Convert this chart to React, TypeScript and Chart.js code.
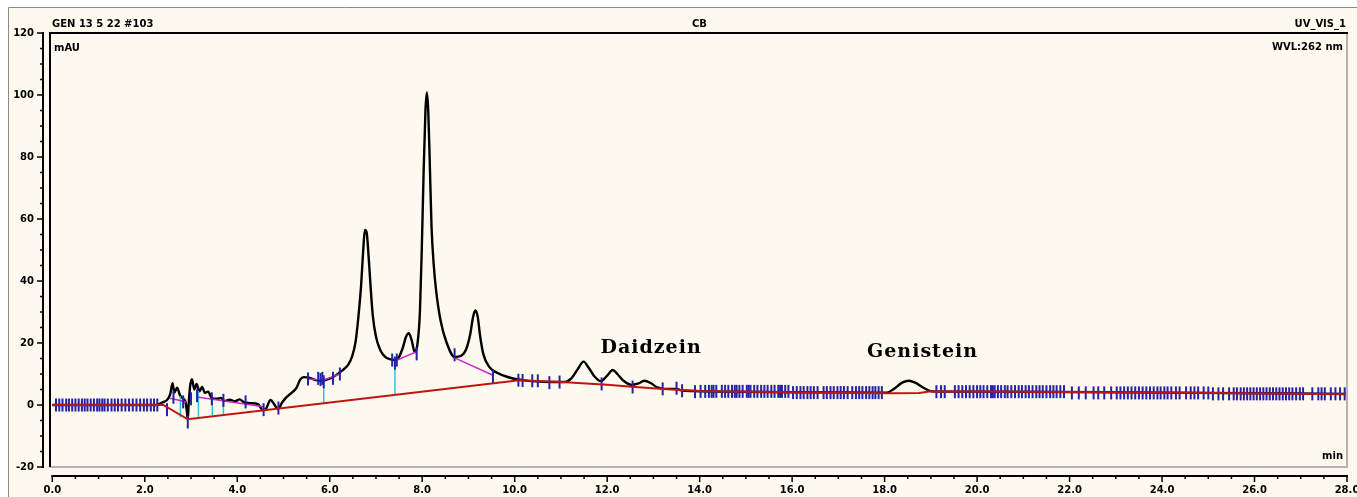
import React, { useEffect, useRef } from "react";
import { Chart, registerables } from "chart.js";
Chart.register(...registerables);

// ---------- data (time in min, signal in mAU) ----------
const xTickLabels = ["0.0","2.0","4.0","6.0","8.0","10.0","12.0","14.0","16.0","18.0","20.0","22.0","24.0","26.0","28.0"];
const yTickLabels = ["-20","0","20","40","60","80","100","120"];

const trace: [number, number][] = [
  [0,0],[2.25,0],[2.38,0.8],[2.48,1.6],[2.55,3.5],[2.6,7.0],[2.64,4.0],[2.7,5.6],[2.76,3.2],[2.82,2.2],
  [2.88,1.0],[2.91,-2.0],[2.93,-4.5],[2.95,0.5],[2.98,6.0],[3.02,8.3],[3.07,5.0],[3.12,6.8],[3.18,4.4],
  [3.24,5.8],[3.3,3.9],[3.37,4.3],[3.45,2.2],[3.56,2.0],[3.65,2.3],[3.72,1.3],[3.84,1.7],[3.95,1.2],
  [4.05,1.8],[4.15,0.8],[4.3,0.6],[4.45,0.3],[4.55,-1.6],[4.62,-1.2],[4.72,1.6],[4.8,0.2],[4.88,-1.3],
  [4.97,0.8],[5.07,2.6],[5.18,4.0],[5.28,5.5],[5.36,8.2],[5.44,9.0],[5.55,8.8],[5.7,8.0],[5.85,7.8],
  [5.95,8.3],[6.05,8.8],[6.2,10.3],[6.3,11.5],[6.4,13.0],[6.48,15.5],[6.56,20.5],[6.62,28.5],[6.68,39.0],
  [6.72,49.0],[6.76,56.5],[6.8,55.5],[6.84,48.0],[6.88,39.0],[6.93,29.0],[7.0,22.0],[7.1,17.5],[7.2,15.5],
  [7.3,14.8],[7.41,14.5],[7.5,15.5],[7.58,18.5],[7.65,22.0],[7.71,23.2],[7.77,21.0],[7.84,17.0],[7.9,20.0],
  [7.95,30.0],[7.99,50.0],[8.03,75.0],[8.07,95.0],[8.1,100.8],[8.13,95.0],[8.16,80.0],[8.2,58.0],[8.25,45.0],
  [8.3,37.0],[8.4,27.0],[8.53,20.0],[8.7,15.5],[8.83,15.8],[8.95,18.0],[9.04,23.0],[9.1,28.5],[9.15,30.5],
  [9.2,28.5],[9.25,22.5],[9.32,16.5],[9.45,12.3],[9.63,10.3],[9.9,8.8],[10.3,7.8],[11.06,7.4],[11.23,8.7],
  [11.36,11.5],[11.49,14.0],[11.6,12.0],[11.72,9.3],[11.86,7.7],[12.0,9.5],[12.12,11.3],[12.22,10.0],
  [12.34,8.0],[12.53,6.5],[12.68,7.0],[12.8,7.8],[12.95,7.0],[13.07,5.8],[13.24,5.2],[13.5,5.2],[13.6,4.7],
  [13.85,4.5],[14.5,4.3],[16.0,4.1],[18.05,4.0],[18.2,5.2],[18.38,7.2],[18.52,7.8],[18.66,7.2],[18.85,5.5],
  [19.03,4.4],[20.0,4.3],[24.0,4.0],[28.0,3.6],
];

const baseline: [number, number][] = [
  [0,0],[2.4,0],[2.93,-4.6],[10.1,8.0],[11.0,7.4],[12.0,6.5],[12.6,5.8],[13.3,5.1],[14.0,4.5],
  [16.0,4.1],[18.1,3.8],[18.75,3.9],[19.0,4.4],[24.0,4.0],[28.0,3.5],
];

const skimLines: [number, number][][] = [
  [[2.55,2.2],[2.9,1.0]],
  [[3.13,2.6],[4.57,-0.6]],
  [[5.51,8.4],[5.87,8.1],[6.22,10.0]],
  [[7.41,14.2],[7.88,17.2]],
  [[8.7,15.2],[9.53,9.6]],
];

const dropLines: [number, number, number][] = [
  [2.77, 2.8, -4.0],
  [3.16, 4.5, -3.8],
  [3.46, 2.2, -3.3],
  [3.7, 1.3, -2.9],
  [5.87, 8.1, 0.6],
  [7.41, 14.3, 3.5],
];

const markersAtZero = [0.08,0.15,0.22,0.3,0.36,0.43,0.5,0.57,0.64,0.7,0.76,0.83,0.9,0.97,1.02,1.08,1.13,1.2,1.28,1.35,1.42,1.5,1.58,1.66,1.74,1.82,1.9,1.98,2.05,2.13,2.2,2.27];
const markersMidA = [14.02,14.12,14.2,14.26,14.3,14.36,14.48,14.55,14.62,14.7,14.76,14.8,14.86,14.93,15.02,15.06,15.1,15.18,15.25,15.33,15.4,15.47,15.55,15.62,15.7,15.74,15.78,15.85,15.92];
const markersMidB = [16.02,16.1,16.18,16.25,16.33,16.4,16.47,16.55,16.68,16.75,16.83,16.9,16.98,17.05,17.12,17.2,17.3,17.38,17.45,17.52,17.6,17.67,17.74,17.8,17.87,17.94];
const markersLateA = [19.12,19.22,19.3,19.52,19.6,19.68,19.76,19.84,19.92,20.0,20.07,20.14,20.22,20.3,20.34,20.38,20.45,20.52,20.6,20.66,20.74,20.82,20.9,20.97,21.05,21.12,21.2,21.28,21.35,21.42,21.5,21.58,21.65,21.72,21.8,21.88];
const markersLateB = [22.05,22.2,22.35,22.52,22.62,22.75,22.9,23.02,23.1,23.18,23.26,23.34,23.42,23.5,23.58,23.66,23.74,23.82,23.9,23.97,24.05,24.12,24.2,24.3,24.38,24.52,24.62,24.7,24.78,24.9,25.0];
const markersLateC = [25.1,25.22,25.32,25.45,25.55,25.62,25.7,25.77,25.84,25.91,25.98,26.05,26.12,26.19,26.26,26.33,26.4,26.47,26.54,26.61,26.68,26.75,26.82,26.9,26.98,27.05,27.25,27.38,27.45,27.52,27.65,27.75,27.85,27.95];
const markersScattered: [number, number][] = [
  [2.48,-1.5],[2.62,2.5],[2.83,1.0],[2.93,-5.5],[3.0,2.0],[3.13,3.0],[3.45,2.0],[3.7,1.5],[4.18,1.0],
  [4.57,-1.5],[4.89,-1.0],[5.53,8.4],[5.75,8.6],[5.8,8.2],[5.84,8.6],[5.87,7.5],[6.07,8.6],[6.22,10.0],
  [7.35,14.5],[7.41,13.5],[7.45,14.5],[7.88,16.5],[8.7,16.2],[9.53,9.2],[10.08,8.0],[10.17,7.9],[10.38,7.8],
  [10.5,7.8],[10.75,7.2],[10.97,7.4],[11.88,6.8],[12.55,5.8],[13.2,5.2],[13.5,5.4],[13.62,4.6],[13.9,4.3],
];

const peakNames = ["Daidzein", "Genistein"];
const peakLabelAt: [number, number][] = [[12.95, 18.4], [18.82, 17.1]];

const headerLeft = "GEN 13 5 22 #103";
const headerCenter = "CB";
const headerRight = "UV_VIS_1";
const yUnit = "mAU";
const xUnit = "min";
const wavelength = "WVL:262 nm";

// ---------- styles ----------
const CREAM = "#fdf9ee";
const AXIS_FONT = "bold 10px 'DejaVu Sans'";

export default function App() {
  const ref = useRef<HTMLCanvasElement>(null);
  useEffect(() => {
    document.body.style.margin = "0";
    document.body.style.overflow = "hidden";
    const canvas = ref.current!;

    const pts = (arr: [number, number][]) => arr.map(([x, y]) => ({ x, y }));
    const withGaps = (segs: [number, number][][]) => {
      const out: any[] = [];
      segs.forEach((s) => { s.forEach(([x, y]) => out.push({ x, y })); out.push({ x: s[s.length - 1][0], y: null }); });
      return out;
    };
    const drops: any[] = [];
    dropLines.forEach(([t, a, b]) => { drops.push({ x: t, y: a }, { x: t, y: b }, { x: t, y: null }); });
    const markerData: any[] = [
      ...markersAtZero.map((x) => ({ x, y: 0 })),
      ...markersMidA.map((x) => ({ x, y: 4.4 })),
      ...markersMidB.map((x) => ({ x, y: 4.0 })),
      ...markersLateA.map((x) => ({ x, y: 4.3 })),
      ...markersLateB.map((x) => ({ x, y: 3.9 })),
      ...markersLateC.map((x) => ({ x, y: 3.6 })),
      ...pts(markersScattered),
    ];

    const decor = {
      id: "decor",
      beforeDraw(chart: any) {
        const { ctx, width, height } = chart;
        ctx.save();
        ctx.fillStyle = "#ffffff";
        ctx.fillRect(0, 0, width, height);
        ctx.fillStyle = CREAM;
        ctx.fillRect(8, 7, width - 8, height - 7);
        ctx.strokeStyle = "#8a8a8a";
        ctx.lineWidth = 1;
        ctx.beginPath();
        ctx.moveTo(8.5, height);
        ctx.lineTo(8.5, 7.5);
        ctx.lineTo(width, 7.5);
        ctx.stroke();
        ctx.restore();
      },
      afterDraw(chart: any) {
        const { ctx, chartArea: a } = chart;
        const xs = chart.scales.x, ys = chart.scales.y;
        ctx.save();
        // plot box
        ctx.strokeStyle = "#b4b4b4";
        ctx.lineWidth = 2;
        ctx.beginPath();
        ctx.moveTo(a.right, a.top);
        ctx.lineTo(a.right, a.bottom);
        ctx.lineTo(a.left, a.bottom);
        ctx.stroke();
        ctx.strokeStyle = "#000";
        ctx.lineWidth = 2;
        ctx.beginPath();
        ctx.moveTo(a.left, a.bottom);
        ctx.lineTo(a.left, a.top);
        ctx.lineTo(a.right + 1, a.top);
        ctx.stroke();

        // y axis
        const ax = a.left - 7;
        const yTop = ys.getPixelForValue(ys.max), yBot = ys.getPixelForValue(ys.min);
        ctx.lineWidth = 2;
        ctx.beginPath();
        ctx.moveTo(ax, yTop - 1);
        ctx.lineTo(ax, yBot + 1);
        ctx.stroke();
        const yt = ys.ticks.map((t: any) => t.value);
        ctx.lineWidth = 1.5;
        yt.forEach((v: number, i: number) => {
          const py = ys.getPixelForValue(v);
          ctx.beginPath(); ctx.moveTo(ax, py); ctx.lineTo(ax - 6, py); ctx.stroke();
          if (i < yt.length - 1) {
            const step = (yt[i + 1] - v) / 4;
            for (let k = 1; k < 4; k++) {
              const q = ys.getPixelForValue(v + k * step);
              ctx.beginPath(); ctx.moveTo(ax, q); ctx.lineTo(ax - 3, q); ctx.stroke();
            }
          }
        });

        // x axis
        const ay = a.bottom + 9;
        const x0 = xs.getPixelForValue(0), x1 = xs.getPixelForValue(xs.max);
        ctx.lineWidth = 2;
        ctx.beginPath();
        ctx.moveTo(x0 - 1, ay);
        ctx.lineTo(x1 + 1, ay);
        ctx.stroke();
        const xt = xs.ticks.map((t: any) => t.value);
        ctx.lineWidth = 1.5;
        xt.forEach((v: number, i: number) => {
          const px = xs.getPixelForValue(v);
          ctx.beginPath(); ctx.moveTo(px, ay); ctx.lineTo(px, ay + 6); ctx.stroke();
          if (i < xt.length - 1) {
            const step = (xt[i + 1] - v) / 4;
            for (let k = 1; k < 4; k++) {
              const q = xs.getPixelForValue(v + k * step);
              ctx.beginPath(); ctx.moveTo(q, ay); ctx.lineTo(q, ay + 3); ctx.stroke();
            }
          }
        });

        // header / unit texts
        ctx.fillStyle = "#000";
        ctx.font = AXIS_FONT;
        ctx.textBaseline = "middle";
        ctx.textAlign = "left";
        ctx.fillText(headerLeft, a.left + 2, a.top - 9);
        ctx.fillText(yUnit, a.left + 4, a.top + 15);
        ctx.textAlign = "center";
        ctx.fillText(headerCenter, (a.left + a.right) / 2 + 1, a.top - 9);
        ctx.textAlign = "right";
        ctx.fillText(headerRight, a.right - 1, a.top - 9);
        ctx.fillText(wavelength, a.right - 4, a.top + 14);
        ctx.fillText(xUnit, a.right - 4, a.bottom - 11);

        // peak names
        ctx.font = "bold 19px 'DejaVu Serif'";
        (ctx as any).letterSpacing = "1px";
        ctx.textAlign = "center";
        ctx.textBaseline = "middle";
        peakNames.forEach((n, i) => {
          const [t, v] = peakLabelAt[i];
          ctx.fillText(n, xs.getPixelForValue(t), ys.getPixelForValue(v));
        });
        ctx.restore();
      },
    };

    const chart = new Chart(canvas, {
      type: "scatter",
      data: {
        datasets: [
          {
            label: "baseline",
            data: pts(baseline),
            showLine: true,
            borderColor: "#c01414",
            borderWidth: 2,
            pointRadius: 0,
            order: 0,
          } as any,
          {
            label: "markers",
            data: markerData,
            showLine: false,
            pointStyle: "line",
            rotation: 90,
            pointRadius: 6.5,
            borderColor: "#2222aa",
            backgroundColor: "#2222aa",
            pointBorderWidth: 2,
            borderWidth: 2,
            order: 1,
          } as any,
          {
            label: "skim",
            data: withGaps(skimLines),
            showLine: true,
            spanGaps: false,
            borderColor: "#c828c8",
            borderWidth: 1.5,
            pointRadius: 0,
            order: 2,
          } as any,
          {
            label: "drop",
            data: drops,
            showLine: true,
            spanGaps: false,
            borderColor: "#28c8d6",
            borderWidth: 1.5,
            pointRadius: 0,
            order: 3,
          } as any,
          {
            label: "UV_VIS_1",
            data: pts(trace),
            showLine: true,
            borderColor: "#000000",
            borderWidth: 2.4,
            pointRadius: 0,
            cubicInterpolationMode: "monotone",
            order: 4,
          } as any,
        ],
      },
      options: {
        responsive: false,
        animation: false,
        events: [],
        layout: { padding: { left: 0, right: 10, top: 33, bottom: 0 } },
        plugins: { legend: { display: false }, tooltip: { enabled: false }, title: { display: false } },
        scales: {
          x: {
            type: "linear",
            min: -0.05,
            max: 28,
            grid: { display: false, drawTicks: false },
            border: { display: false },
            ticks: {
              stepSize: 2,
              includeBounds: false,
              autoSkip: false,
              maxRotation: 0,
              padding: 17,
              color: "#000",
              font: { family: "'DejaVu Sans'", size: 10, weight: "bold" },
              callback: (v: any) => {
                const i = Math.round(Number(v) / 2);
                return xTickLabels[i] ?? "";
              },
            },
            afterFit: (s: any) => { s.height = 30; s.paddingLeft = 0; s.paddingRight = 0; },
          },
          y: {
            type: "linear",
            min: -20,
            max: 120,
            grid: { display: false, drawTicks: false },
            border: { display: false },
            ticks: {
              stepSize: 20,
              autoSkip: false,
              padding: 16,
              color: "#000",
              font: { family: "'DejaVu Sans'", size: 10, weight: "bold" },
              callback: (v: any) => {
                const i = Math.round((Number(v) + 20) / 20);
                return yTickLabels[i] ?? "";
              },
            },
            afterFit: (s: any) => { s.width = 50; s.paddingTop = 0; s.paddingBottom = 0; },
          },
        },
      } as any,
      plugins: [decor],
    });
    return () => chart.destroy();
  }, []);
  return <canvas ref={ref} width={1357} height={497} style={{ display: "block", width: 1357, height: 497 }} />;
}
